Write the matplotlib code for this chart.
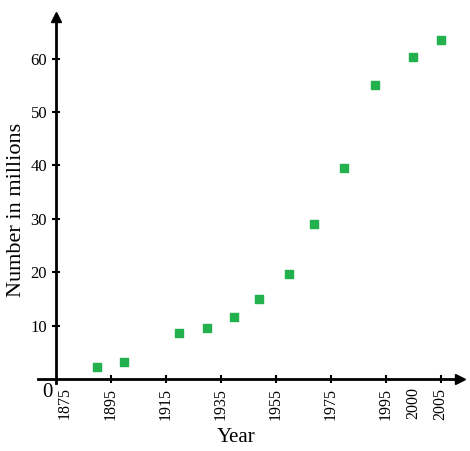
import numpy as np
import matplotlib
matplotlib.use('Agg')
from matplotlib import pyplot as plt

# data
years = [1890, 1900, 1920, 1930, 1940, 1949, 1960, 1969, 1980, 1991, 2000, 2005]
millions = [2.3, 3.2, 8.6, 9.6, 11.7, 15.0, 19.7, 29.0, 39.6, 55.1, 60.4, 63.4]
x_ticks = [1895, 1915, 1935, 1955, 1975, 1995, 2005]
y_ticks = [10, 20, 30, 40, 50, 60]

plt.rcParams['font.family'] = ['Liberation Serif', 'DejaVu Serif']


# the x axis is not linear: 20 years per step up to 1995, 10 after
def fwd(y):
    y = np.asarray(y, dtype=float)
    return np.where(y <= 1995, (y - 1875) / 20.0, 6 + (y - 1995) / 10.0)


def inv(u):
    u = np.asarray(u, dtype=float)
    return np.where(u <= 6, 1875 + 20.0 * u, 1995 + 10.0 * (u - 6))


fig = plt.figure(figsize=(4.7, 4.51), dpi=100)
ax = fig.add_axes([38 / 470, 68 / 451, 422 / 470, 366 / 451])
ax.set_xscale('function', functions=(fwd, inv))
ax.set_xlim(1868.56, 2008.51)
ax.set_ylim(-0.75, 67.8)

for s in ['top', 'right']:
    ax.spines[s].set_visible(False)
ax.spines['left'].set_position(('data', 1875))
ax.spines['bottom'].set_position(('data', 0))
ax.spines['left'].set_linewidth(2)
ax.spines['bottom'].set_linewidth(2)
ax.plot(1, 0, '>k', ms=7, transform=ax.get_yaxis_transform(), clip_on=False)
ax.plot(1875, 1, '^k', ms=7, transform=ax.get_xaxis_transform(), clip_on=False)

ax.scatter(years, millions, marker='s', s=36, c='#22b14c', zorder=3)

ax.set_xticks(x_ticks)
ax.set_xticklabels([str(t) for t in x_ticks], rotation=90)
ax.set_xticks([2000], minor=True)
ax.set_xticklabels(['2000'], minor=True, rotation=90)
ax.set_yticks(y_ticks)
ax.tick_params(axis='both', which='major', direction='inout', length=6, width=1.5)
ax.tick_params(axis='x', which='major', pad=3.5, labelsize=11.5)
ax.tick_params(axis='y', which='major', pad=3.2, labelsize=12)
ax.tick_params(axis='x', which='minor', length=0, pad=5.7, labelsize=11.5)

ax.annotate('1875', xy=(1875, 0), xytext=(9, -8), textcoords='offset pixels',
            rotation=90, ha='center', va='top', fontsize=11.5)
ax.annotate('0', xy=(1875, 0), xytext=(-8, -14), textcoords='offset pixels',
            ha='center', va='center', fontsize=15)

ax.set_xlabel('Year', fontsize=15)
ax.set_ylabel('Number in millions', fontsize=16)
ax.xaxis.set_label_coords((236 - 38) / 422, (383 - 428) / 366)
ax.yaxis.set_label_coords((26 - 38) / 422, (383 - 210) / 366)

fig.savefig('out.png', dpi=100)
